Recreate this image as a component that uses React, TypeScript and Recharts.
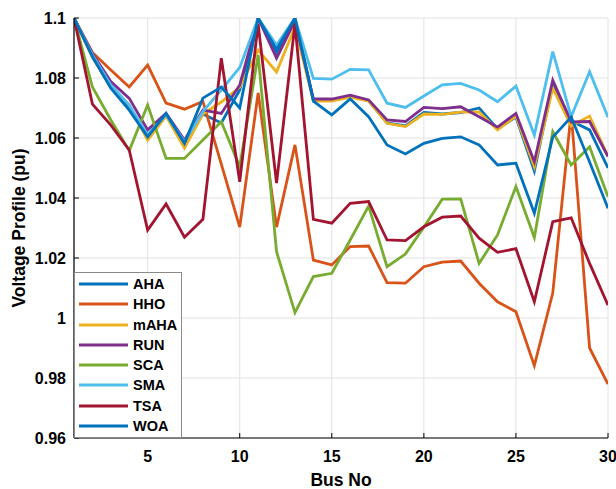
import { LineChart, Line, XAxis, YAxis, CartesianGrid, Legend } from "recharts";

// the page keeps its default 8px body margin; drop it so the chart can use the full 616x489
if (typeof document !== "undefined") document.body.style.margin = "0";

const buses = [
  1, 2, 3, 4, 5, 6, 7, 8, 9, 10, 11, 12, 13, 14, 15, 16, 17, 18, 19, 20, 21, 22, 23, 24, 25, 26, 27, 28, 29, 30,
];

const aha = [
  1.1, 1.087, 1.077, 1.07, 1.061, 1.068, 1.058, 1.068, 1.065, 1.076, 1.1, 1.0885, 1.1, 1.0727, 1.0725, 1.074,
  1.0725, 1.065, 1.064, 1.0685, 1.068, 1.0685, 1.07, 1.063, 1.067, 1.049, 1.078, 1.0657, 1.0627, 1.05,
];
const hho = [
  1.1, 1.0885, 1.0827, 1.077, 1.0843, 1.0716, 1.0696, 1.0722, 1.0513, 1.0303, 1.075, 1.0303, 1.0577, 1.0193,
  1.0177, 1.0238, 1.024, 1.0118, 1.0116, 1.0171, 1.0186, 1.019, 1.0116, 1.0054, 1.0021, 0.9841, 1.0083, 1.0685,
  0.99, 0.978,
];
const mAha = [
  1.1, 1.087, 1.077, 1.071, 1.0593, 1.0673, 1.0566, 1.068, 1.072, 1.077, 1.0893, 1.082, 1.097, 1.0723, 1.0723,
  1.0736, 1.0723, 1.0649, 1.0638, 1.068, 1.0679, 1.0686, 1.0687, 1.0627, 1.0673, 1.0504, 1.0766, 1.064, 1.0673,
  1.054,
];
const run = [
  1.1, 1.0882, 1.0788, 1.0732, 1.0627, 1.0682, 1.0593, 1.0693, 1.0682, 1.0777, 1.1, 1.0866, 1.099, 1.073, 1.073,
  1.0743, 1.0727, 1.066, 1.0655, 1.0702, 1.0698, 1.0704, 1.0671, 1.0636, 1.0682, 1.0521, 1.0793, 1.0654, 1.0655,
  1.0538,
];
const sca = [
  1.1, 1.077, 1.066, 1.0558, 1.071, 1.0532, 1.0532, 1.0593, 1.0654, 1.0504, 1.0877, 1.0221, 1.0018, 1.0138,
  1.0149, 1.026, 1.0373, 1.0171, 1.0213, 1.0303, 1.0396, 1.0397, 1.0182, 1.0277, 1.0438, 1.0268, 1.0621, 1.051,
  1.0571, 1.0404,
];
const sma = [
  1.1, 1.0877, 1.0777, 1.071, 1.061, 1.0677, 1.0588, 1.0688, 1.076, 1.0835, 1.1, 1.091, 1.1, 1.0799, 1.0796,
  1.0829, 1.0827, 1.0716, 1.0702, 1.074, 1.0777, 1.0782, 1.076, 1.0721, 1.0773, 1.061, 1.0888, 1.0671, 1.0821,
  1.0669,
];
const tsa = [
  1.1, 1.0713, 1.0643, 1.056, 1.0293, 1.038, 1.0269, 1.0329, 1.0866, 1.0454, 1.098, 1.045, 1.098, 1.0329, 1.0316,
  1.0382, 1.0388, 1.026, 1.0258, 1.0304, 1.0336, 1.034, 1.0266, 1.0219, 1.0231, 1.0054, 1.0321, 1.0334, 1.0182,
  1.0043,
];
const woa = [
  1.1, 1.0871, 1.0766, 1.0693, 1.0604, 1.0682, 1.0582, 1.0733, 1.077, 1.07, 1.1, 1.0895, 1.1, 1.0723, 1.0677,
  1.073, 1.0671, 1.0577, 1.0547, 1.0582, 1.0599, 1.0604, 1.0577, 1.051, 1.0516, 1.0349, 1.0603, 1.067, 1.052,
  1.0366,
];

const names = ["AHA", "HHO", "mAHA", "RUN", "SCA", "SMA", "TSA", "WOA"];
const colors = ["#0072BD", "#D95319", "#EDB120", "#7E2F8E", "#77AC30", "#4DBEEE", "#A2142F", "#0072BD"];
const values = [aha, hho, mAha, run, sca, sma, tsa, woa];

const xTicks = [5, 10, 15, 20, 25, 30];
const yTicks = [0.96, 0.98, 1, 1.02, 1.04, 1.06, 1.08, 1.1];

const data = buses.map((bus, i) => {
  const row: Record<string, number> = { bus };
  names.forEach((n, k) => {
    row[n] = values[k][i];
  });
  return row;
});

const font = "'Liberation Sans', Arial, sans-serif";
const tickStyle = { fill: "#000", fontSize: 16, fontWeight: "bold", fontFamily: font };

function LegendBox() {
  return (
    <div
      style={{
        width: 108,
        height: 166,
        boxSizing: "border-box",
        border: "1px solid #8a8a8a",
        background: "#fff",
        paddingTop: 1,
      }}
    >
      {names.map((n, k) => (
        <div key={n} style={{ display: "flex", alignItems: "center", height: 20.25 }}>
          <svg width={58} height={6} style={{ display: "block" }}>
            <line x1={4} x2={53} y1={3} y2={3} stroke={colors[k]} strokeWidth={3} />
          </svg>
          <span style={{ font: `bold 14.5px ${font}`, color: "#000", lineHeight: "16px" }}>{n}</span>
        </div>
      ))}
    </div>
  );
}

const xTitle = (p: any) => (
  <text
    x={p.viewBox.x + p.viewBox.width / 2}
    y={p.viewBox.y + 48}
    textAnchor="middle"
    fontSize={17.5}
    fontWeight="bold"
    fontFamily={font}
    fill="#000"
  >
    Bus No
  </text>
);

const yTitle = (p: any) => {
  const x = p.viewBox.x + 11;
  const y = p.viewBox.y + p.viewBox.height / 2;
  return (
    <text
      x={x}
      y={y}
      transform={`rotate(-90 ${x} ${y})`}
      textAnchor="middle"
      fontSize={17.5}
      fontWeight="bold"
      fontFamily={font}
      fill="#000"
    >
      Voltage Profile (pu)
    </text>
  );
};

export default function App() {
  return (
    <LineChart width={616} height={489} data={data} margin={{ top: 18, right: 8, left: 14, bottom: 0 }}>
      <CartesianGrid stroke="#e2e2e2" strokeWidth={1} />
      <XAxis
        dataKey="bus"
        type="number"
        domain={[1, 30]}
        ticks={xTicks}
        allowDataOverflow
        height={51}
        tickSize={-5}
        tickMargin={18}
        tick={tickStyle}
        axisLine={{ stroke: "#000", strokeWidth: 1.2 }}
        tickLine={{ stroke: "#000" }}
        label={xTitle}
      />
      <XAxis
        xAxisId="top"
        orientation="top"
        dataKey="bus"
        type="number"
        domain={[1, 30]}
        ticks={xTicks}
        allowDataOverflow
        height={0}
        tickSize={-5}
        tick={false}
        axisLine={{ stroke: "#000", strokeWidth: 1.2 }}
        tickLine={{ stroke: "#000" }}
      />
      <YAxis
        type="number"
        domain={[0.96, 1.1]}
        ticks={yTicks}
        allowDataOverflow
        width={60}
        tickSize={-5}
        tickMargin={13}
        tick={tickStyle}
        tickFormatter={(v: number) => String(+v.toFixed(2))}
        axisLine={{ stroke: "#000", strokeWidth: 1.2 }}
        tickLine={{ stroke: "#000" }}
        label={yTitle}
      />
      <YAxis
        yAxisId="right"
        orientation="right"
        type="number"
        domain={[0.96, 1.1]}
        ticks={yTicks}
        allowDataOverflow
        width={0}
        tickSize={-5}
        tick={false}
        axisLine={{ stroke: "#000", strokeWidth: 1.2 }}
        tickLine={{ stroke: "#000" }}
      />
      {names.map((n, k) => (
        <Line
          key={n}
          type="linear"
          dataKey={n}
          stroke={colors[k]}
          strokeWidth={2.8}
          dot={false}
          activeDot={false}
          isAnimationActive={false}
        />
      ))}
      <Legend
        content={() => <LegendBox />}
        layout="vertical"
        align="center"
        verticalAlign="middle"
        wrapperStyle={{ left: 74, top: 272, width: 108, height: 166 }}
      />
    </LineChart>
  );
}
